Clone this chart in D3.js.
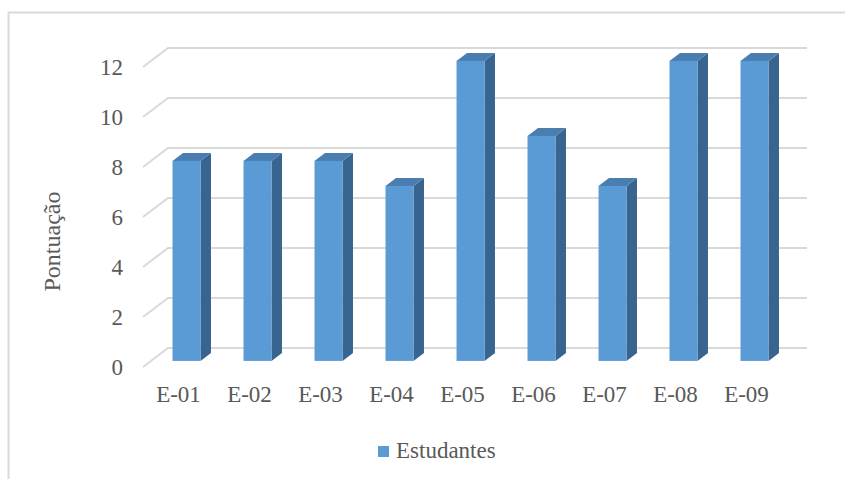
<!DOCTYPE html>
<html>
<head>
<meta charset="utf-8">
<script src="https://cdn.jsdelivr.net/npm/d3@7"></script>
<style>
  html, body { margin: 0; padding: 0; background: #fff; }
  svg { display: block; }
  text { font-family: "Liberation Serif", "Times New Roman", serif; fill: #595959; }
</style>
</head>
<body>
<svg id="chart" width="845" height="479"></svg>
<script>
// Scores per student
const categories = ["E-01", "E-02", "E-03", "E-04", "E-05", "E-06", "E-07", "E-08", "E-09"];
const scores = [8, 8, 8, 7, 12, 9, 7, 12, 12];
const yTicks = [0, 2, 4, 6, 8, 10, 12];
const seriesName = "Estudantes";
const yTitle = "Pontuação";

const svg = d3.select("#chart");
const W = 845, H = 479;

// Front plane of the 3D plot area and depth vector toward the back wall
const plot = { left: 143, right: 782, bottom: 367, top: 67 };
const depth = { dx: 25, dy: -19 };
const barDepthFront = 0.32, barDepthBack = 0.74;

const x = d3.scaleBand()
  .domain(categories)
  .range([plot.left, plot.right])
  .paddingInner(0.606)
  .paddingOuter(0.303);

const y = d3.scaleLinear()
  .domain([0, 12])
  .range([plot.bottom, plot.top]);

// Chart frame (top and left edges visible)
svg.append("path")
  .attr("d", `M8.5,${H} V12.5 H${W}`)
  .attr("fill", "none")
  .attr("stroke", "#d9d9d9")
  .attr("stroke-width", 2);

// Gridlines: slanted floor/side segment then back-wall line
const grid = svg.append("g");
yTicks.forEach(t => {
  const y0 = y(t);
  grid.append("path")
    .attr("d", `M${plot.left},${y0} L${plot.left + depth.dx},${y0 + depth.dy} H${plot.right + depth.dx}`)
    .attr("fill", "none")
    .attr("stroke", "#d9d9d9")
    .attr("stroke-width", 2);
});

// Y tick labels
svg.append("g").selectAll("text")
  .data(yTicks)
  .join("text")
  .attr("x", 123)
  .attr("y", d => y(d))
  .attr("dy", "0.35em")
  .attr("text-anchor", "end")
  .attr("font-size", 23)
  .text(d => d);

// Bars as 3D boxes
const colFront = "#5b9bd5", colTop = "#4a7eb1", colSide = "#38658f";
const fx = depth.dx * barDepthFront, fy = depth.dy * barDepthFront;
const bx = depth.dx * (barDepthBack - barDepthFront), by = depth.dy * (barDepthBack - barDepthFront);

const bars = svg.append("g").selectAll("g")
  .data(categories.map((c, i) => ({ c, v: scores[i] })))
  .join("g");

bars.each(function(d) {
  const g = d3.select(this);
  const x0 = x(d.c) + fx, x1 = x0 + x.bandwidth();
  const yt = y(d.v) + fy, yb = y(0) + fy;
  // side face
  g.append("path")
    .attr("d", `M${x1},${yt} L${x1 + bx},${yt + by} L${x1 + bx},${yb + by} L${x1},${yb} Z`)
    .attr("fill", colSide);
  // top face
  g.append("path")
    .attr("d", `M${x0},${yt} L${x0 + bx},${yt + by} L${x1 + bx},${yt + by} L${x1},${yt} Z`)
    .attr("fill", colTop);
  // front face
  g.append("rect")
    .attr("x", x0)
    .attr("y", yt)
    .attr("width", x.bandwidth())
    .attr("height", yb - yt)
    .attr("fill", colFront);
});

// Category labels
svg.append("g").selectAll("text")
  .data(categories)
  .join("text")
  .attr("x", d => x(d) + x.bandwidth() / 2)
  .attr("y", 402)
  .attr("text-anchor", "middle")
  .attr("font-size", 23)
  .text(d => d);

// Y axis title
svg.append("text")
  .attr("transform", "translate(60,241.5) rotate(-90)")
  .attr("text-anchor", "middle")
  .attr("font-size", 24)
  .text(yTitle);

// Legend
const legend = svg.append("g");
legend.append("rect")
  .attr("x", 378).attr("y", 446)
  .attr("width", 11).attr("height", 11)
  .attr("fill", colFront);
legend.append("text")
  .attr("x", 396).attr("y", 458)
  .attr("font-size", 23)
  .text(seriesName);
</script>
</body>
</html>
